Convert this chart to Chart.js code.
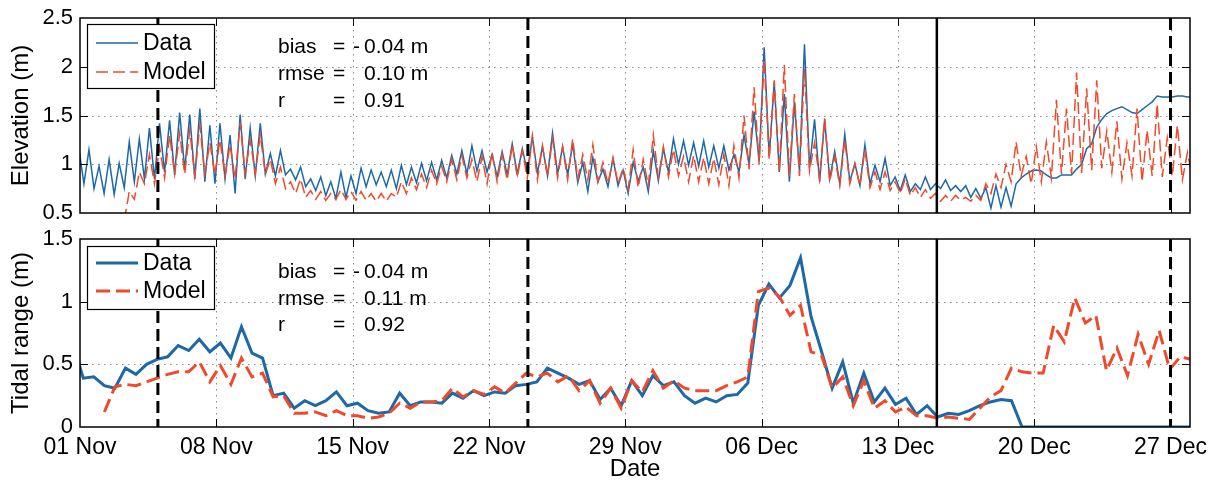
<!DOCTYPE html>
<html>
<head>
<meta charset="utf-8">
<script src="https://cdn.jsdelivr.net/npm/chart.js@4.4.1/dist/chart.umd.min.js"></script>
<style>
  html, body { margin: 0; padding: 0; background: #fff; }
  #wrap { position: relative; width: 1218px; height: 481px; overflow: hidden; }
  canvas { position: absolute; left: 0; }
  #elev { top: 0; }
  #range { top: 225px; }
</style>
</head>
<body>
<div id="wrap">
  <canvas id="elev" width="1218" height="225"></canvas>
  <canvas id="range" width="1218" height="256"></canvas>
</div>
<script>
// ---- Date axis (days since 01 Nov 00:00) ----
const dateTicks  = [0, 7, 14, 21, 28, 35, 42, 49, 56];
const dateLabels = ['01 Nov', '08 Nov', '15 Nov', '22 Nov', '29 Nov', '06 Dec', '13 Dec', '20 Dec', '27 Dec'];
const elevTicks  = [0.5, 1, 1.5, 2, 2.5];
const rangeTicks = [0, 0.5, 1, 1.5];

// Period boundaries (days): dashed and solid separators
const dashedMarkers = [4, 23, 56];
const solidMarkers  = [44];

// ---- Elevation: high and low water of each semi-diurnal tide (m) ----
const HW_FIRST_H = -1.38;   // time of first high water, hours
const TIDE_PERIOD_H = 12.42;
const LW_LAG_H = 6.24;

const dataHigh = [
  1.16,
  1.15, 0.98, 1.05, 1.01, 1.23, 1.26, 1.37, 1.42, 1.45, 1.53, 1.51, 1.57, 1.40, 1.42, 1.30, 1.51, 1.37, 1.42, 1.11,
  1.14, 0.95, 0.97, 0.85, 0.87, 0.82, 0.92, 0.88, 0.96, 0.94, 0.92, 0.94, 0.99, 0.97, 1.01, 1.02, 1.04, 1.09, 1.14,
  1.19, 1.14, 1.10, 1.13, 1.21, 1.16, 1.28, 1.18, 1.32, 1.18, 1.21, 1.02, 1.07, 0.95, 1.06, 0.94, 1.02, 0.97, 1.14,
  1.16, 1.26, 1.24, 1.22, 1.24, 1.19, 1.19, 1.10, 1.30, 1.54, 2.20, 1.84, 1.72, 1.64, 2.23, 1.46, 1.46, 1.13, 1.31,
  1.01, 1.20, 0.99, 1.06, 0.87, 0.89, 0.80, 0.87, 0.80, 0.84, 0.78, 0.78, 0.75, 0.76, 0.78, 0.76,
  0.80, 0.90, 0.94, 0.89, 0.86, 0.89, 0.95, 1.16, 1.38, 1.52, 1.57, 1.56, 1.52, 1.60, 1.70, 1.69, 1.70, 1.69
];
const dataLow = [
  0.80,
  0.75, 0.70, 0.69, 0.76, 0.82, 0.85, 0.85, 0.92, 0.89, 0.94, 0.85, 0.82, 0.80, 0.85, 0.70, 0.85, 0.88, 0.90, 0.88,
  0.89, 0.84, 0.77, 0.73, 0.68, 0.65, 0.66, 0.70, 0.77, 0.79, 0.77, 0.75, 0.79, 0.81, 0.83, 0.84, 0.86, 0.90, 0.90,
  0.93, 0.92, 0.87, 0.89, 0.90, 0.92, 0.91, 0.88, 0.90, 0.89, 0.81, 0.72, 0.82, 0.77, 0.78, 0.70, 0.83, 0.72, 0.83,
  0.92, 1.00, 0.99, 0.98, 0.97, 0.96, 0.94, 0.92, 1.00, 1.03, 1.08, 0.92, 0.82, 0.93, 0.96, 0.82, 0.85, 0.80, 0.82,
  0.78, 0.80, 0.82, 0.78, 0.73, 0.72, 0.74, 0.74, 0.75, 0.73, 0.72, 0.66, 0.65, 0.55, 0.56, 0.57,
  0.86, 0.93, 0.93, 0.86, 0.89, 0.89, 1.00, 1.21, 1.46, 1.55, 1.59, 1.53, 1.56, 1.64, 1.69, 1.69, 1.70, 1.69
];
const modelHigh = [
  null, null, null, null, null,
  0.72, 0.92, 1.10, 1.18, 1.30, 1.32, 1.35, 1.40, 1.22, 1.25, 1.20, 1.43, 1.25, 1.30, 1.05,
  0.97, 0.82, 0.85, 0.73, 0.72, 0.70, 0.74, 0.72, 0.72, 0.70, 0.70, 0.70, 0.82, 0.86, 0.90, 0.94, 0.98, 1.05, 1.09,
  1.05, 1.08, 1.12, 1.10, 1.20, 1.14, 1.29, 1.19, 1.26, 1.18, 1.26, 1.10, 1.20, 1.02, 1.06, 0.96, 1.15, 1.05, 1.30,
  1.18, 1.15, 1.08, 1.09, 1.07, 1.06, 1.10, 1.19, 1.50, 1.79, 2.08, 1.86, 2.02, 1.72, 1.98, 1.22, 1.47, 1.08, 1.25,
  1.00, 1.15, 0.92, 0.92, 0.82, 0.85, 0.76, 0.74, 0.70, 0.68, 0.68, 0.66, 0.68, 0.80, 0.90, 1.00, 1.23, 1.08,
  1.18, 1.23, 1.66, 1.57, 1.94, 1.78, 1.86, 1.34, 1.44, 1.22, 1.57, 1.35, 1.62, 1.27, 1.40, 1.12
];
const modelLow = [
  null, null, null, null,
  0.42,
  0.64, 0.80, 0.80, 0.86, 0.90, 0.90, 0.88, 0.90, 0.90, 0.88, 0.85, 0.90, 0.90, 0.90, 0.80,
  0.75, 0.70, 0.66, 0.64, 0.63, 0.64, 0.64, 0.63, 0.63, 0.62, 0.62, 0.66, 0.70, 0.74, 0.76, 0.80, 0.82, 0.84, 0.86,
  0.82, 0.80, 0.82, 0.84, 0.87, 0.86, 0.84, 0.88, 0.86, 0.84, 0.85, 0.84, 0.82, 0.80, 0.80, 0.74, 0.76, 0.78, 0.86,
  0.87, 0.88, 0.82, 0.82, 0.80, 0.79, 0.78, 0.86, 0.95, 1.00, 1.05, 0.92, 0.88, 0.88, 0.93, 0.85, 0.82, 0.78,
  0.80, 0.78, 0.76, 0.74, 0.73, 0.70, 0.68, 0.66, 0.65, 0.62, 0.62, 0.63, 0.62, 0.63, 0.70, 0.76, 0.82, 0.88, 0.80,
  0.82, 0.86, 0.90, 0.90, 0.91, 0.94, 0.96, 0.92, 0.85, 0.88, 0.82, 0.88, 0.87, 0.88, 0.84, 0.86
];

// ---- Tidal range, one value every 13 h (m) ----
const RANGE_FIRST_H = -9;
const RANGE_STEP_H = 13;

const dataRange = [
  0.67,
  0.39, 0.40, 0.33, 0.31, 0.47, 0.42, 0.50, 0.54, 0.56, 0.65, 0.61, 0.70, 0.60, 0.67, 0.55, 0.80, 0.59, 0.55,
  0.25, 0.27, 0.15, 0.21, 0.17, 0.21, 0.28, 0.17, 0.19, 0.13, 0.11, 0.12, 0.27, 0.17, 0.20,
  0.20, 0.19, 0.27, 0.23, 0.29, 0.25, 0.28, 0.27, 0.33, 0.34, 0.36, 0.47, 0.43, 0.39, 0.34, 0.37, 0.22, 0.31,
  0.17, 0.37, 0.25, 0.41, 0.33, 0.36, 0.25, 0.19, 0.23, 0.20, 0.25, 0.26, 0.35, 0.97, 1.14, 1.03, 1.13, 1.35,
  0.88, 0.60, 0.31, 0.52, 0.19, 0.43, 0.20, 0.31, 0.18, 0.23, 0.10, 0.17, 0.08, 0.11, 0.10, 0.13, 0.17, 0.20, 0.22, 0.21,
  0, 0, 0, 0, 0, 0, 0, 0, 0, 0, 0, 0, 0, 0, 0, 0, 0
];
const modelRange = [
  null, null, null,
  0.12, 0.32, 0.34, 0.33, 0.36, 0.39, 0.42, 0.44, 0.44, 0.52, 0.36, 0.49, 0.34, 0.55, 0.40, 0.43,
  0.24, 0.25, 0.11, 0.11, 0.12, 0.09, 0.13, 0.09, 0.09, 0.07, 0.08, 0.11, 0.19, 0.15, 0.20,
  0.20, 0.21, 0.31, 0.24, 0.29, 0.26, 0.32, 0.27, 0.35, 0.43, 0.40, 0.43, 0.36, 0.41, 0.29, 0.37,
  0.19, 0.31, 0.15, 0.37, 0.28, 0.45, 0.31, 0.37, 0.31, 0.29, 0.29, 0.29, 0.33, 0.36, 0.40,
  1.08, 1.11, 1.04, 0.89, 0.97, 0.60, 0.57, 0.31, 0.40, 0.17, 0.37, 0.15, 0.21, 0.12, 0.16, 0.09, 0.09,
  0.07, 0.08, 0.07, 0.06, 0.15, 0.24, 0.29, 0.47, 0.44, 0.43, 0.43, 0.81, 0.68, 1.03, 0.83, 0.89,
  0.45, 0.63, 0.41, 0.74, 0.50, 0.77, 0.46, 0.56, 0.54
];

// ---- Skill statistics ----
const statNames  = ['bias', 'rmse', 'r'];
const statUnits  = ['m', 'm', ''];
const elevStats  = [-0.04, 0.10, 0.91];
const rangeStats = [-0.04, 0.11, 0.92];

// ---------------------------------------------------------------------------
const FONT = '"Liberation Sans", Arial, Helvetica, sans-serif';
const BLUE = '#1d68a7';
const RED  = '#ef4a2b';
Chart.defaults.font.family = FONT;
Chart.defaults.color = '#000';

function tideSeries(high, low) {
  const pts = [];
  high.forEach((h, n) => {
    const t = HW_FIRST_H + TIDE_PERIOD_H * n;
    pts.push({ x: t / 24, y: h });
    pts.push({ x: (t + LW_LAG_H) / 24, y: low[n] });
  });
  return pts;
}
function rangeSeries(vals) {
  return vals.map((v, n) => ({ x: (RANGE_FIRST_H + RANGE_STEP_H * n) / 24, y: v }));
}

function xScale(showLabels, height) {
  return {
    type: 'linear', min: 0, max: 57, bounds: 'data',
    afterBuildTicks: s => { s.ticks = dateTicks.map(v => ({ value: v })); },
    ticks: {
      display: showLabels, autoSkip: false, maxRotation: 0, minRotation: 0, padding: 7,
      font: { size: 23 },
      callback: (v, i) => dateLabels[i]
    },
    grid: { display: false, drawTicks: false },
    border: { display: false },
    title: { display: showLabels, text: 'Date', font: { size: 24, lineHeight: 1 }, padding: 0 },
    afterFit: s => { s.height = height; s.paddingLeft = 0; s.paddingRight = 0; }
  };
}
function yScale(min, max, tickVals, title) {
  return {
    type: 'linear', min, max, bounds: 'data',
    afterBuildTicks: s => { s.ticks = tickVals.map(v => ({ value: v })); },
    ticks: { padding: 7, font: { size: 22 }, callback: v => String(v) },
    grid: { display: false, drawTicks: false },
    border: { display: false },
    title: { display: true, text: title, font: { size: 24 }, padding: { top: 7, bottom: 0 } },
    afterFit: s => { s.width = 80; s.paddingTop = 0; s.paddingBottom = 0; }
  };
}

// Axes box, dotted grid, inward ticks, separators, legend and statistics
function frame(cfg) {
  return {
    id: 'frame' + cfg.name,
    beforeDatasetsDraw(chart) {
      const { ctx, chartArea: a, scales: { x, y } } = chart;
      ctx.save();
      ctx.strokeStyle = '#8a8a8a';
      ctx.lineWidth = 1;
      ctx.setLineDash([1.5, 4.5]);
      ctx.beginPath();
      dateTicks.forEach(d => {
        if (d > x.min && d < x.max) {
          const p = Math.round(x.getPixelForValue(d)) + 0.5;
          ctx.moveTo(p, a.top); ctx.lineTo(p, a.bottom);
        }
      });
      y.ticks.forEach(t => {
        if (t.value > y.min && t.value < y.max) {
          const p = Math.round(y.getPixelForValue(t.value)) + 0.5;
          ctx.moveTo(a.left, p); ctx.lineTo(a.right, p);
        }
      });
      ctx.stroke();
      ctx.restore();
    },
    afterDatasetsDraw(chart) {
      const { ctx, chartArea: a, scales: { x, y } } = chart;
      ctx.save();
      ctx.beginPath();
      ctx.rect(a.left, a.top, a.width, a.height);
      ctx.clip();
      ctx.strokeStyle = '#000';
      ctx.lineWidth = 3;
      ctx.setLineDash([12, 6]);
      dashedMarkers.forEach(d => {
        const p = x.getPixelForValue(d);
        ctx.beginPath(); ctx.moveTo(p, a.top); ctx.lineTo(p, a.bottom); ctx.stroke();
      });
      ctx.setLineDash([]);
      ctx.lineWidth = 2.5;
      solidMarkers.forEach(d => {
        const p = x.getPixelForValue(d);
        ctx.beginPath(); ctx.moveTo(p, a.top); ctx.lineTo(p, a.bottom); ctx.stroke();
      });
      ctx.restore();

      // inward tick marks on all four sides
      ctx.save();
      ctx.strokeStyle = '#000';
      ctx.lineWidth = 1;
      ctx.beginPath();
      const tl = 8;
      dateTicks.forEach(d => {
        if (d > x.min && d < x.max) {
          const p = Math.round(x.getPixelForValue(d)) + 0.5;
          ctx.moveTo(p, a.bottom); ctx.lineTo(p, a.bottom - tl);
          ctx.moveTo(p, a.top); ctx.lineTo(p, a.top + tl);
        }
      });
      y.ticks.forEach(t => {
        if (t.value > y.min && t.value < y.max) {
          const p = Math.round(y.getPixelForValue(t.value)) + 0.5;
          ctx.moveTo(a.left, p); ctx.lineTo(a.left + tl, p);
          ctx.moveTo(a.right, p); ctx.lineTo(a.right - tl, p);
        }
      });
      ctx.stroke();
      ctx.lineWidth = 1.5;
      ctx.strokeRect(a.left, a.top, a.width, a.height);
      ctx.restore();

      // legend
      const L = cfg.legend;
      const bx = a.left + L.dx, by = a.top + L.dy;
      ctx.save();
      ctx.fillStyle = '#fff';
      ctx.fillRect(bx, by, L.w, L.h);
      ctx.strokeStyle = '#000';
      ctx.lineWidth = 1.2;
      ctx.strokeRect(bx + 0.5, by + 0.5, L.w, L.h);
      chart.data.datasets.forEach((ds, n) => {
        const ly = by + L.rows[n];
        ctx.strokeStyle = ds.borderColor;
        ctx.lineWidth = ds.borderWidth;
        ctx.setLineDash(ds.borderDash || []);
        ctx.beginPath(); ctx.moveTo(bx + 9, ly); ctx.lineTo(bx + 51, ly); ctx.stroke();
        ctx.setLineDash([]);
        ctx.fillStyle = '#000';
        ctx.font = '23px ' + FONT;
        ctx.textBaseline = 'middle';
        ctx.textAlign = 'left';
        ctx.fillText(ds.label, bx + 56, ly + 1);
      });
      ctx.restore();

      // statistics block
      const S = cfg.stats;
      ctx.save();
      ctx.fillStyle = '#000';
      ctx.font = '21px ' + FONT;
      ctx.textBaseline = 'alphabetic';
      ctx.textAlign = 'left';
      statNames.forEach((name, n) => {
        const ty = a.top + S.rows[n];
        const v = S.values[n];
        ctx.fillText(name, a.left + 198, ty);
        ctx.fillText('=', a.left + 253, ty);
        if (v < 0) ctx.fillText('-', a.left + 273, ty);
        const txt = Math.abs(v).toFixed(2) + (statUnits[n] ? ' ' + statUnits[n] : '');
        ctx.fillText(txt, a.left + 284, ty);
      });
      ctx.restore();
    }
  };
}

const common = {
  responsive: false,
  animation: false,
  devicePixelRatio: 1,
  events: [],
  plugins: { legend: { display: false }, tooltip: { enabled: false } }
};

new Chart(document.getElementById('elev'), {
  type: 'line',
  data: {
    datasets: [
      { label: 'Data', data: tideSeries(dataHigh, dataLow), borderColor: BLUE, borderWidth: 1.5,
        pointRadius: 0, tension: 0, order: 1 },
      { label: 'Model', data: tideSeries(modelHigh, modelLow), borderColor: RED, borderWidth: 1.5,
        borderDash: [12, 5], pointRadius: 0, tension: 0, order: 0 }
    ]
  },
  options: Object.assign({}, common, {
    layout: { padding: { left: 0, right: 28, top: 18, bottom: 0 } },
    scales: { x: xScale(false, 12), y: yScale(0.5, 2.5, elevTicks, 'Elevation (m)') }
  }),
  plugins: [frame({ name: 'Elev', legend: { dx: 7, dy: 6, w: 127, h: 64, rows: [19, 48] },
                    stats: { values: elevStats, rows: [35, 62, 89] } })]
});

new Chart(document.getElementById('range'), {
  type: 'line',
  data: {
    datasets: [
      { label: 'Data', data: rangeSeries(dataRange), borderColor: BLUE, borderWidth: 3,
        pointRadius: 0, tension: 0, order: 1 },
      { label: 'Model', data: rangeSeries(modelRange), borderColor: RED, borderWidth: 3,
        borderDash: [14, 6], pointRadius: 0, tension: 0, order: 0 }
    ]
  },
  options: Object.assign({}, common, {
    layout: { padding: { left: 0, right: 28, top: 14, bottom: 0 } },
    scales: { x: xScale(true, 54), y: yScale(0, 1.5, rangeTicks, 'Tidal range (m)') }
  }),
  plugins: [frame({ name: 'Range', legend: { dx: 7, dy: 7, w: 127, h: 63, rows: [17, 45] },
                    stats: { values: rangeStats, rows: [39, 66, 92] } })]
});
</script>
</body>
</html>
